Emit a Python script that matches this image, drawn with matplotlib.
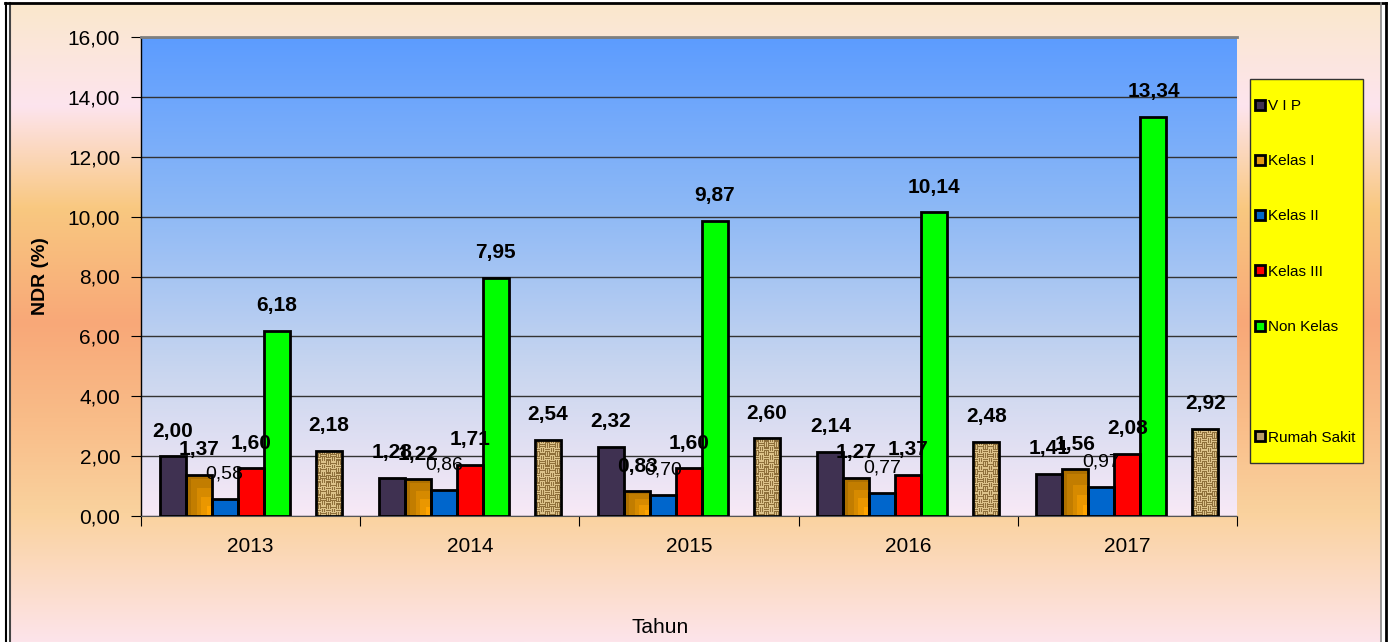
"""
NDR per kelas perawatan, 2013-2017: grouped bars with value labels.
Saves out.png.
"""
import numpy as np
import matplotlib
matplotlib.use("Agg")
import matplotlib.pyplot as plt
from matplotlib.colors import LinearSegmentedColormap, to_rgb
from matplotlib.patches import Patch, Rectangle
from matplotlib.lines import Line2D

plt.rcParams["font.family"] = ["Liberation Sans", "DejaVu Sans"]

YEARS = ["2013", "2014", "2015", "2016", "2017"]
SERIES = ["V I P", "Kelas I", "Kelas II", "Kelas III", "Non Kelas", "Rumah Sakit"]
VIP = [2.00, 1.28, 2.32, 2.14, 1.41]
KELAS_1 = [1.37, 1.22, 0.83, 1.27, 1.56]
KELAS_2 = [0.58, 0.86, 0.70, 0.77, 0.97]
KELAS_3 = [1.60, 1.71, 1.60, 1.37, 2.08]
NON_KELAS = [6.18, 7.95, 9.87, 10.14, 13.34]
RUMAH_SAKIT = [2.18, 2.54, 2.60, 2.48, 2.92]
VALUES = [VIP, KELAS_1, KELAS_2, KELAS_3, NON_KELAS, RUMAH_SAKIT]

# slot index inside a group of 7 (slot 5 left empty, like a blank series)
SLOTS = [0, 1, 2, 3, 4, 6]
COLORS = ["#3f3151", "#e39a10", "#0066cc", "#ff0000", "#00ff00", "#b89c68"]
BOLD = [True, True, False, True, True, True]

W, H = 1393, 642


def px(x, y):
    return x / W, 1 - y / H


def vgrad(stops, n=256):
    cmap = LinearSegmentedColormap.from_list("g", stops)
    return cmap(np.linspace(0, 1, n))[:, None, :]


def fill_patch(ax, patch, img):
    x0, y0 = patch.get_x(), patch.get_y()
    im = ax.imshow(img, extent=[x0, x0 + patch.get_width(), y0, y0 + patch.get_height()],
                   aspect="auto", origin="upper", interpolation="nearest", zorder=3.2)
    im.set_clip_path(patch)


def corner_gradient(nx=24, ny=60):
    # stepped gradient, bright toward the lower right corner
    u = np.linspace(0, 1, nx)[None, :]
    v = np.linspace(1, 0, ny)[:, None]
    d = np.maximum(1 - u, v * 0.9)
    d = np.floor(d * 5) / 5
    dark, light = np.array(to_rgb("#9a6400")), np.array(to_rgb("#ffa400"))
    return dark[None, None, :] * d[..., None] + light[None, None, :] * (1 - d[..., None])


def weave(nx=26, ny=90):
    # basket-weave texture
    yy, xx = np.mgrid[0:ny, 0:nx]
    block = ((xx // 5) + (yy // 5)) % 2
    stripe = np.where(block == 0, (yy % 2 == 0), (xx % 2 == 0))
    light, dark = np.array(to_rgb("#dcc28a")), np.array(to_rgb("#7c5c28"))
    t = stripe.astype(float)[..., None] * 0.8
    return dark * t + light * (1 - t)


fig = plt.figure(figsize=(W / 100, H / 100), dpi=100)

# figure background gradient
bg = fig.add_axes([px(10, 0)[0], 0, (1381 - 10) / W, 1 - 3 / H], zorder=-5)
bg.imshow(vgrad([(0.0, "#fae8cc"), (0.16, "#fde4ee"), (0.32, "#f9c880"),
                 (0.5, "#f8a878"), (0.65, "#f9bc88"), (0.8, "#fad29e"),
                 (1.0, "#fde4ea")]), aspect="auto", extent=[0, 1, 0, 1])
bg.axis("off")

l, b = px(141, 516)
r, t = px(1237, 37)
ax = fig.add_axes([l, b, r - l, t - b])
ax.set_facecolor("none")
ax.imshow(vgrad([(0.0, "#5c9cff"), (0.35, "#8cb8f6"), (0.7, "#c9d6ef"), (1.0, "#f8e9f6")]),
          aspect="auto", extent=[0, 1, 0, 1], transform=ax.transAxes, zorder=0)

x = np.arange(len(YEARS))
width = 0.1186
weave_img = weave()
corner_img = corner_gradient()
for k, (name, vals) in enumerate(zip(SERIES, VALUES)):
    pos = x + (SLOTS[k] - 3) * width
    bars = ax.bar(pos, vals, width, color=COLORS[k], linewidth=0, zorder=3, label=name)
    if k == 1:
        for p in bars:
            fill_patch(ax, p, corner_img)
    if k == 5:
        for p in bars:
            fill_patch(ax, p, weave_img)
    # outline on top of any texture
    ax.bar(pos, vals, width, fill=False, edgecolor="black", linewidth=2, zorder=3.4)
    for xi, v in zip(pos, vals):
        ax.annotate(f"{v:.2f}".replace(".", ","), (xi, v), xytext=(0, 18),
                    textcoords="offset points", ha="center", va="center",
                    fontsize=15 if BOLD[k] else 14,
                    fontweight="bold" if BOLD[k] else "normal", zorder=5)

ax.set_xlim(-0.5, len(YEARS) - 0.5)
ax.set_ylim(0, 16)
ax.set_yticks(np.arange(0, 16.1, 2))
ax.set_yticklabels([f"{v:.2f}".replace(".", ",") for v in np.arange(0, 16.1, 2)])
ax.yaxis.grid(True, color="#333333", linewidth=1)
ax.set_axisbelow(True)
for g in ax.get_ygridlines():
    g.set_zorder(1)

ax.set_xticks(np.arange(-0.5, len(YEARS)), labels=[])
ax.set_xticks(x, labels=YEARS, minor=True)
ax.tick_params(axis="x", which="major", length=7, direction="out")
ax.tick_params(axis="x", which="minor", length=0, pad=15, labelsize=15)
ax.tick_params(axis="y", length=7, pad=8, labelsize=15)

ax.spines["right"].set_visible(False)
ax.spines["top"].set_color("#7f7f7f")
ax.spines["top"].set_linewidth(2)
ax.spines["left"].set_linewidth(1)
ax.spines["bottom"].set_color("#555555")

ax.set_ylabel("NDR (%)", fontsize=14, fontweight="bold")
ax.yaxis.set_label_coords(-0.084, 0.5)
ax.set_xlabel("Tahun", fontsize=15)
ax.xaxis.set_label_coords(0.4735, -0.212)

# legend box drawn separately so the entries can sit close to its left edge
bx0, by0 = px(1250, 463)
fig.add_artist(Rectangle((bx0, by0), (1363 - 1250) / W, (463 - 79) / H,
                         transform=fig.transFigure, facecolor="#ffff00",
                         edgecolor="#333333", linewidth=1, zorder=4))

handles = []
for k in range(len(SERIES)):
    handles.append(Patch(facecolor=COLORS[k], edgecolor="black", linewidth=2))
handles.insert(5, Patch(facecolor="none", edgecolor="none"))
labels = SERIES[:5] + [" "] + SERIES[5:]
leg = fig.legend(handles, labels, loc="upper left", bbox_to_anchor=px(1255, 99),
                 fontsize=11, labelspacing=2.7, handlelength=0.65, handleheight=0.65,
                 handletextpad=0.2, borderpad=0, borderaxespad=0, frameon=False)
leg.set_zorder(5)

# outer frame
for xs, ys, c, lw in [([5.5, 5.5], [3, 642], "black", 1.5),
                      ([10, 10], [3, 642], "#444444", 1.5),
                      ([5, 1386], [3, 3], "black", 2),
                      ([1381, 1381], [3, 642], "#888888", 1.2),
                      ([1386, 1386], [3, 642], "black", 2)]:
    fig.add_artist(Line2D([v / W for v in xs], [1 - v / H for v in ys], color=c, linewidth=lw))

fig.savefig("out.png", dpi=100)
